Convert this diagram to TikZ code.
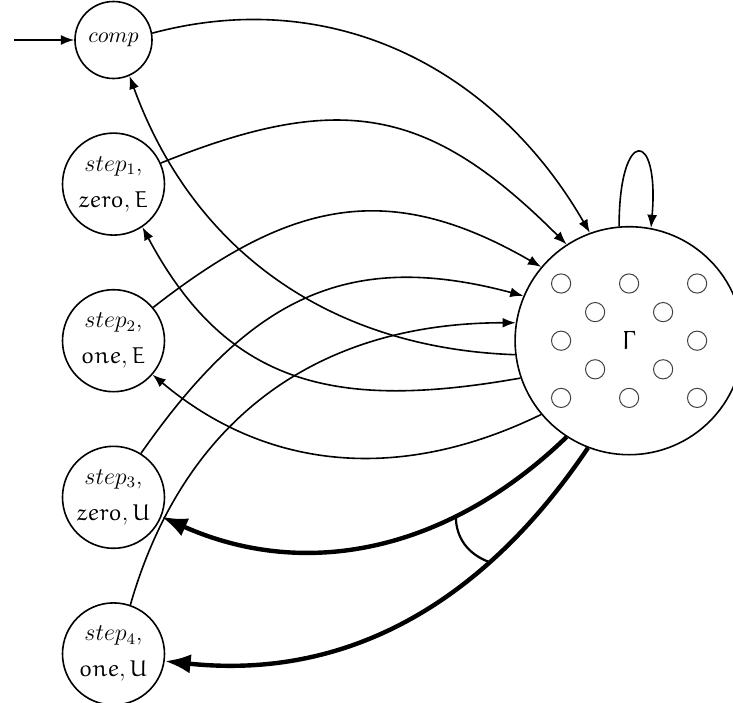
\documentclass[tikz,border=0pt]{standalone}
\usetikzlibrary{arrows.meta, positioning}
\DeclareMathAlphabet{\mathe}{U}{eur}{m}{n}

\begin{document}
\begin{tikzpicture}[
  font=\fontsize{11}{17}\selectfont,
  state/.style={draw, circle, line width=0.8pt, inner sep=1pt, minimum size=51pt, align=center},
  stepstate/.style={state, font=\fontsize{11.5}{18}\selectfont},
  arrow/.style={-{Latex}, line width=0.8pt},
  heavyarrow/.style={-{Latex}, line width=2.2pt},
  dot/.style={draw=black!75, line width=0.5pt},
  node distance=26.5pt
]
\useasboundingbox (-56.75pt,-331pt) rectangle (309.75pt,20pt);
\node[state, minimum size=38.5pt] (comp) {$comp$};
\node[stepstate, below=of comp] (s1) {$step_1$,\\ $\mathe{zero}, \mathe{E}$};
\node[stepstate, below=of s1] (s2) {$step_2$,\\ $\mathe{one}, \mathe{E}$};
\node[stepstate, below=of s2] (s3) {$step_3$,\\ $\mathe{zero}, \mathe{U}$};
\node[stepstate, below=of s3] (s4) {$step_4$,\\ $\mathe{one}, \mathe{U}$};
\node[state, minimum size=114pt, font=\fontsize{13}{15}\selectfont, right=174.5pt of s2] (G) {$\mathe{\Gamma}$};
\coordinate[left=30pt of comp] (init);
\foreach \x/\y in {-2/2,0/2,2/2,-1/1,1/1,-2/0,2/0,-1/-1,1/-1,-2/-2,0/-2,2/-2}
  \draw[dot] ([shift={(\x*17pt,\y*14.3pt)}]G.center) circle (4.8pt);
\draw[arrow] (init) -- (comp);
\draw[arrow] (comp.10) to[out=15, in=120] (G.110);
\draw[arrow] (s1.24) to[out=22, in=135, looseness=1.2] (G.123);
\draw[arrow] (s2.40) to[out=38, in=150, looseness=1.15] (G.140);
\draw[arrow] (s3.58) to[out=55, in=165, looseness=1.15] (G.157);
\draw[arrow] (s4.71) to[out=74, in=180, looseness=1.05] (G.171);
\draw[arrow] (G.187) to[out=178, in=-70] (comp.-66);
\draw[arrow] (G.199) to[out=190, in=-62, looseness=1.15] (s1.-56);
\draw[arrow] (G.220) to[out=206, in=-40] (s2.-41);
\draw[heavyarrow] (G.237) to[out=224, in=-24] coordinate[pos=0.3] (b3) (s3.-22);
\draw[heavyarrow] (G.249) to[out=236, in=-6] coordinate[pos=0.29] (b4) (s4.-8);
\draw[line width=1.1pt] (b3) to[out=-90, in=160] (b4);
\draw[arrow] (G.95) to[out=90, in=85, looseness=8] (G.79);
\end{tikzpicture}
\end{document}
